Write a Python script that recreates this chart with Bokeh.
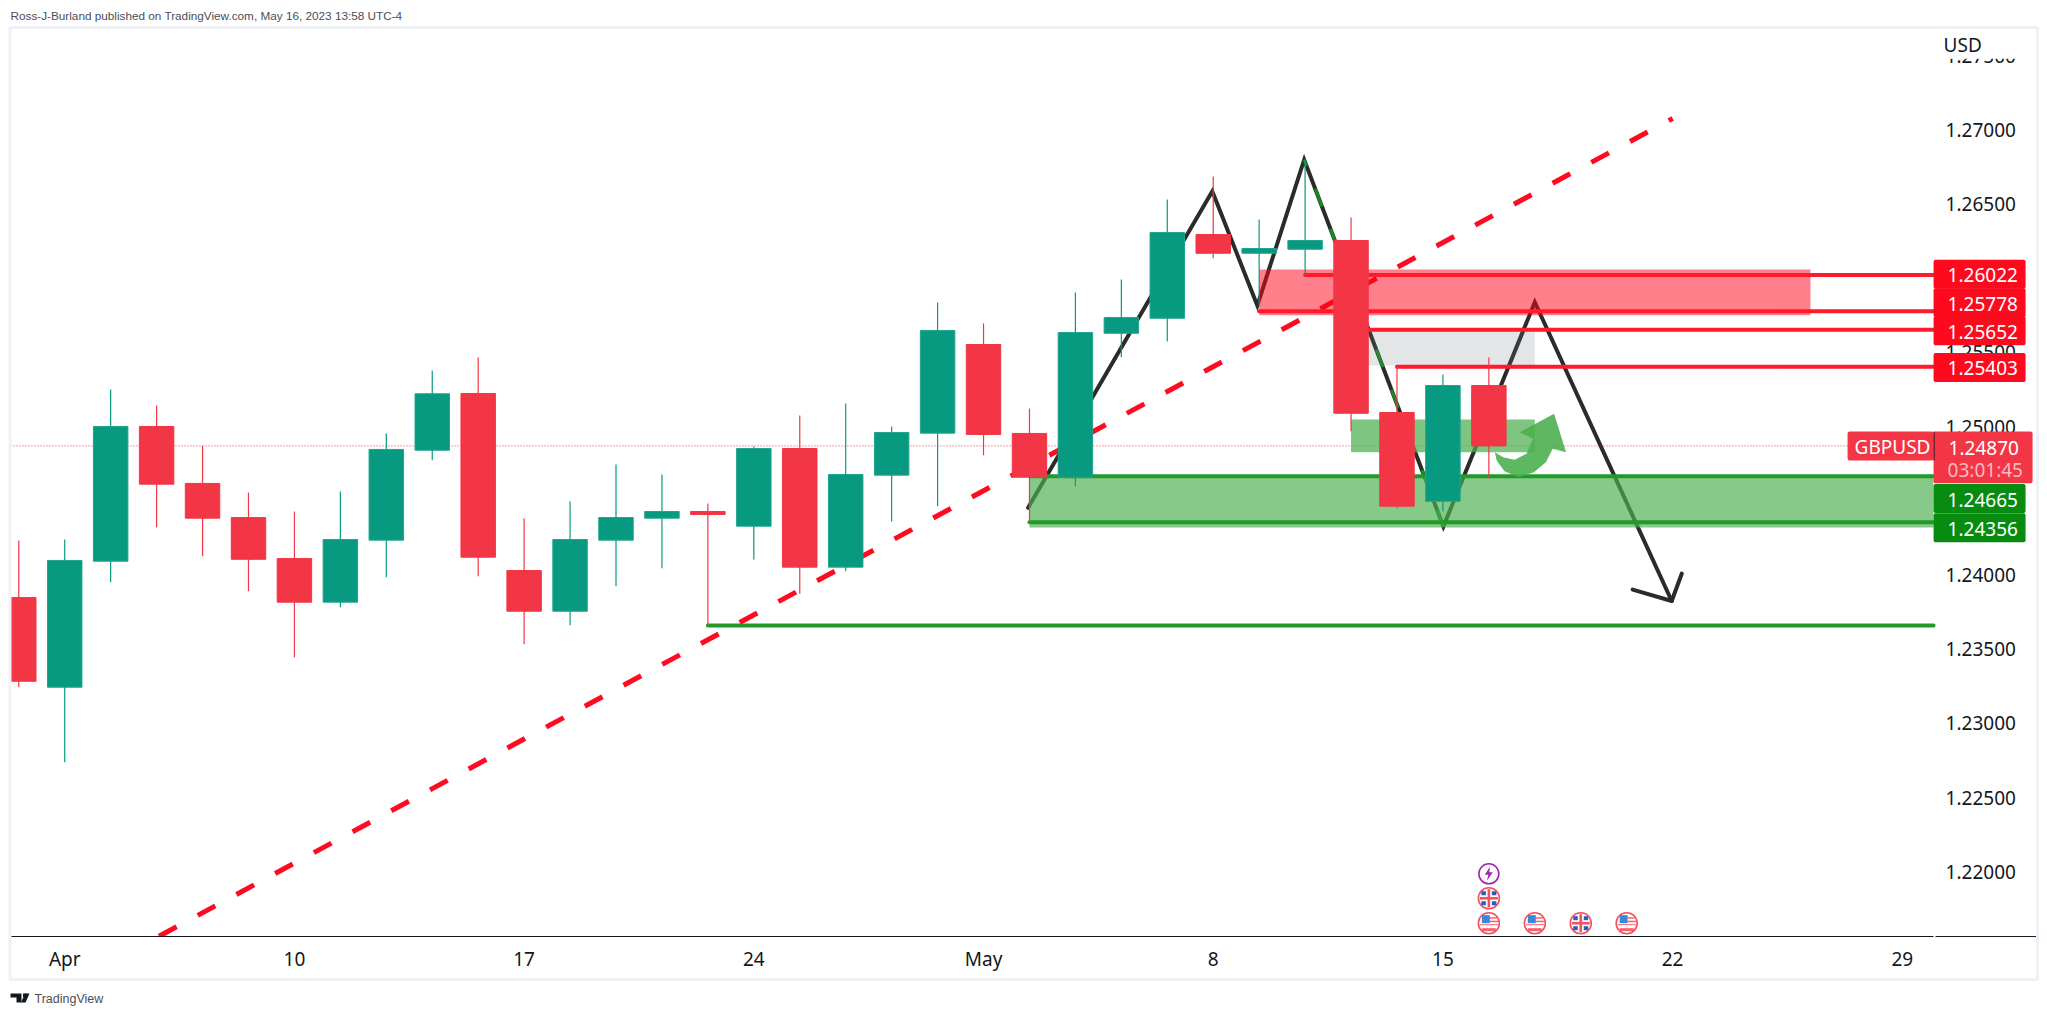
from bokeh.plotting import figure
from bokeh.embed import file_html
from bokeh.resources import INLINE
from bokeh.models import Label, PolyAnnotation, BoxAnnotation, FixedTicker, PrintfTickFormatter, Range1d, LinearAxis

# ---- data -------------------------------------------------------------
bars   = list(range(33))
opens  = [1.23848,1.23244,1.24093,1.25001,1.24617,1.24387,1.24111,1.23817,1.24235,1.24841,1.25223,
          1.24030,1.23756,1.24235,1.24383,1.24428,1.24329,1.24852,1.24053,1.24673,1.24956,1.25553,
          1.24954,1.24659,1.25629,1.25730,1.26294,1.26168,1.26195,1.26254,1.25095,1.24497,1.25277]
highs  = [1.24233,1.24239,1.25250,1.25142,1.24871,1.24556,1.24428,1.24563,1.24954,1.25378,1.25466,
          1.24381,1.24495,1.24745,1.24677,1.24482,1.24866,1.25075,1.25156,1.25001,1.25836,1.25695,
          1.25122,1.25904,1.25991,1.26530,1.26685,1.26396,1.26800,1.26409,1.25405,1.25351,1.25466]
lows   = [1.23244,1.22739,1.23952,1.24322,1.24127,1.23891,1.23446,1.23783,1.23985,1.24774,1.23992,
          1.23534,1.23662,1.23925,1.24046,1.23660,1.24104,1.23873,1.24026,1.24360,1.24464,1.24807,
          1.24347,1.24598,1.25468,1.25573,1.26135,1.25816,1.26032,1.24969,1.24450,1.24430,1.24652]
closes = [1.23284,1.24098,1.25001,1.24612,1.24383,1.24106,1.23817,1.24239,1.24846,1.25221,1.24120,
          1.23756,1.24239,1.24387,1.24428,1.24408,1.24852,1.24053,1.24677,1.24960,1.25648,1.24947,
          1.24659,1.25634,1.25735,1.26308,1.26168,1.26200,1.26254,1.25090,1.24464,1.25277,1.24870]

x_tick_pos    = [1, 6, 11, 16, 21, 26, 31, 36, 41]
x_tick_labels = ["Apr", "10", "17", "24", "May", "8", "15", "22", "29"]
y_ticks       = [1.22, 1.225, 1.23, 1.235, 1.24, 1.245, 1.25, 1.255, 1.26, 1.265, 1.27, 1.275]

last_price = 1.24870
red_levels   = [(1.26022, 28), (1.25778, 27), (1.25652, 29), (1.25403, 30)]
green_levels = [(1.24665, 22), (1.24356, 22), (1.23660, 15)]

pattern_x = [21.97, 25.98, 26.96, 27.98, 31.01, 33.0, 35.98]
pattern_y = [1.24453, 1.26586, 1.25816, 1.26798, 1.24327, 1.25838, 1.23825]
head_x = [35.13, 35.98, 36.2]
head_y = [1.23902, 1.23825, 1.24010]
dash_x = [27.98, 31.01]
dash_y = [1.26798, 1.24327]

trend_x = [2.21, 36.0]
trend_y = [1.21425, 1.27076]

curve_x = [32.13,32.31,32.56,32.82,32.96,32.67,33.42,33.68,33.39,33.24,32.98,32.65,32.34,32.17]
curve_y = [1.24827,1.24794,1.24776,1.24817,1.24918,1.24962,1.25086,1.24827,1.24850,1.24760,
           1.24693,1.24659,1.24699,1.24772]

events_us = [(32, 1.21654), (33, 1.21654), (35, 1.21654)]
events_uk = [(32, 1.21822), (34, 1.21654)]
event_bolt = (32, 1.21987)

# ---- scales: the frame fills the page, the axes sit inside it ------------
FIG_W, FIG_H = 2047, 1015
X0, X1 = -0.398, 44.16
Y0, Y1 = 1.21032, 1.27871
XL, XE = -0.181, 41.68      # left edge of the pane, start of the price scale
YB = 1.21564                # bottom of the pane
PX, PY = (X1 - X0) / FIG_W, (Y1 - Y0) / FIG_H

RED, GREEN = "#f23645", "#089981"
LINE_RED, LINE_GREEN = "#ff1a2e", "#229a2a"
BOX_RED, BOX_GREEN = "#fe0a1e", "#078c10"
FONT = "Noto Sans"
INK = "#131722"

p = figure(width=FIG_W, height=FIG_H, output_backend="svg", toolbar_location=None,
           x_range=Range1d(X0, X1), y_range=Range1d(Y0, Y1), x_axis_type=None, y_axis_type=None,
           min_border_left=0, min_border_right=0, min_border_top=0, min_border_bottom=0,
           background_fill_color="white", border_fill_color="white")
p.grid.visible = False
p.outline_line_color = None

# ---- drawings underneath the candles ----------------------------------
p.segment(XL, last_price, XE, last_price, line_color=RED, line_width=1, line_dash="1 2")
p.line(trend_x, trend_y, line_color="#ff0a20", line_width=5, line_dash="20 24")
p.line(pattern_x, pattern_y, line_color="#2b2b2b", line_width=4, line_join="miter", line_cap="round")
p.line(head_x, head_y, line_color="#2b2b2b", line_width=4, line_join="round", line_cap="round")
p.line(dash_x, dash_y, line_color="#0f8f1f", line_width=3, line_dash="19 24", line_dash_offset=12)

p.quad(left=22, right=XE, bottom=1.24320, top=1.24670, fill_color="#4caf50", fill_alpha=0.68, line_color=None)
p.quad(left=27, right=39.0, bottom=1.25751, top=1.26059, fill_color="#ff0018", fill_alpha=0.5, line_color=None)
p.quad(left=29, right=33, bottom=1.25412, top=1.25648, fill_color="#787b86", fill_alpha=0.2, line_color=None)
p.quad(left=29, right=33, bottom=1.24827, top=1.25048, fill_color="#4caf50", fill_alpha=0.72, line_color=None)

for lvl, start in red_levels:
    p.line([start, XE], [lvl, lvl], line_color=LINE_RED, line_width=4, line_cap="round")
for lvl, start in green_levels:
    p.line([start, XE], [lvl, lvl], line_color=LINE_GREEN, line_width=4, line_cap="round")

# ---- candles ----------------------------------------------------------
up = [c >= o for o, c in zip(opens, closes)]
fills = [GREEN if u else RED for u in up]
edges = ["#1fa38d" if u else RED for u in up]
p.segment(bars, highs, bars, lows, line_color=fills, line_width=1.2)
p.vbar(x=bars, width=0.75, bottom=[min(o, c) for o, c in zip(opens, closes)],
       top=[max(o, c) for o, c in zip(opens, closes)], fill_color=fills, line_color=edges, line_width=1)

p.patch(curve_x, curve_y, fill_color="#4caf50", fill_alpha=0.9, line_color=None)

# ---- calendar events --------------------------------------------------
def rel(cx, cy, x0, y0, x1, y1):
    """Little rectangle given in pixels around an event marker."""
    return dict(left=cx + x0 * PX, right=cx + x1 * PX, top=cy - y0 * PY, bottom=cy - y1 * PY)

def small(cx, cy, boxes, color):
    for b in boxes:
        p.quad(**rel(cx, cy, *b), fill_color=color, line_color=None)

for cx, cy in events_us + events_uk:
    p.scatter([cx], [cy], marker="circle", size=21, fill_color="white", line_color="#f4505e", line_width=1.6)
for cx, cy in events_us:
    small(cx, cy, [(-7, -8, 1, 0)], "#3b86dc")
    small(cx, cy, [(1, -6, 8, -4.5), (1, -2.5, 9, -1), (-9, 1, 9, 2), (-7, 5, 7, 8)], "#f4606c")
for cx, cy in events_uk:
    small(cx, cy, [(-7.5, -7, -3, -3), (3, -7, 7.5, -3), (-7.5, 3, -3, 7), (3, 3, 7.5, 7)], "#2a5cbc")
    small(cx, cy, [(-9, -1.3, 9, 1.3), (-1.3, -9, 1.3, 9)], "#f4505e")
bx, by = event_bolt
p.scatter([bx], [by], marker="circle", size=20, fill_color="white", line_color="#9c27b0", line_width=1.6)
p.patch([bx + d * PX for d in (1, -4, -0.5, -2, 4, 0.5)],
        [by - d * PY for d in (-7, 1, 1, 7, -1.5, -1.5)], fill_color="#9c27b0", line_color=None)

# ---- white masks that stand in for pane clipping ---------------------------
p.quad(left=X0, right=XL, bottom=Y0, top=Y1, fill_color="white", line_color=None)
p.quad(left=X0, right=X1, bottom=Y0, top=YB, fill_color="white", line_color=None)
p.segment(XE + 2 * PX, YB, XE + 103 * PX, YB, line_color=INK, line_width=1)

# ---- axes (fixed inside the frame) ------------------------------------
xa = LinearAxis(fixed_location=YB, bounds=(XL, XE), ticker=FixedTicker(ticks=x_tick_pos),
                major_label_overrides=dict(zip(x_tick_pos, x_tick_labels)),
                major_tick_line_color=None, minor_tick_line_color=None,
                axis_line_color=INK, axis_line_width=1,
                major_label_text_font=FONT, major_label_text_font_size="19px",
                major_label_text_color=INK, major_label_standoff=3)
p.add_layout(xa, "below")
ya = LinearAxis(fixed_location=XE, ticker=FixedTicker(ticks=y_ticks),
                formatter=PrintfTickFormatter(format="%.5f"),
                major_tick_line_color=None, minor_tick_line_color=None, axis_line_color=None,
                major_label_text_font=FONT, major_label_text_font_size="19px",
                major_label_text_color=INK, major_label_standoff=6)
p.add_layout(ya, "right")

# ---- price scale tags -------------------------------------------------
TEXT_DY = -1

def box(price, up_px, down_px, bg, right_px=92, left_px=0, radius=2):
    p.add_layout(BoxAnnotation(left=XE + left_px * PX, right=XE + right_px * PX,
                               top=price + up_px * PY, bottom=price - down_px * PY,
                               fill_color=bg, fill_alpha=1, line_color=None, line_alpha=0, border_radius=radius))

def txt(text, price, shift=0, dx=14, color="white"):
    p.add_layout(Label(x=XE, y=price, x_offset=dx, y_offset=shift + TEXT_DY, text=text, text_color=color,
                       text_font=FONT, text_font_size="19px", text_align="left", text_baseline="middle"))

# USD caption sits on a white plate that hides most of the tick beneath it
box(1.27000, 99, -71, "white", right_px=101, left_px=1, radius=0)
txt("USD", 1.27000, shift=86, dx=10, color=INK)

tags = [("1.26022", 1.26022, 0.7, BOX_RED), ("1.25778", 1.25778, 8.3, BOX_RED),
        ("1.25652", 1.25652, -1, BOX_RED), ("1.25403", 1.25403, -0.7, BOX_RED),
        ("1.24665", 1.24665, -22.2, BOX_GREEN), ("1.24356", 1.24356, -5.6, BOX_GREEN)]
for t, v, s, bg in tags:
    box(v, s + 14.5, 14.5 - s, bg)
box(last_price, 14.4, 14.6, RED, right_px=0, left_px=-86)
box(last_price, 14.4, 37.3, RED, right_px=99)
box(last_price, 14.4, 14.6, INK, right_px=1, radius=0)
for t, v, s, bg in tags:
    txt(t, v, shift=s)
txt("GBPUSD", last_price, dx=-79, shift=0)
txt("1.24870", last_price, shift=-1, dx=15)
txt("03:01:45", last_price, shift=-23.6, dx=14, color="#fbb9bf")

# ---- page furniture (page pixel coordinates) ----------------------------
def canvas_poly(xs, ys, fill=None, line=None, width=1):
    p.add_layout(PolyAnnotation(xs=xs, ys=ys, xs_units="canvas", ys_units="canvas",
                                fill_color=fill, fill_alpha=1 if fill else 0,
                                line_color=line, line_alpha=1 if line else 0, line_width=width, level="overlay"))

canvas_poly([9.5, 2037, 2037, 9.5], [27, 27, 979, 979], line="#eff1f7", width=3)
canvas_poly([10, 21, 21, 16, 16, 10], [993, 993, 1002, 1002, 997, 997], fill=INK)
canvas_poly([22.5, 26, 26, 22.5], [993, 993, 996.5, 996.5], fill=INK)
canvas_poly([29, 25, 20.5, 24.5], [993, 1002, 1002, 993], fill=INK)

p.add_layout(Label(x=10, y=15, x_units="canvas", y_units="canvas", text_align="left", text_baseline="middle",
                   text="Ross-J-Burland published on TradingView.com, May 16, 2023 13:58 UTC-4",
                   text_font="Liberation Sans", text_font_size="11.75px", text_color="#4a4e5a"))
p.add_layout(Label(x=34, y=998, x_units="canvas", y_units="canvas", text_align="left", text_baseline="middle",
                   text="TradingView", text_font="Liberation Sans", text_font_size="12.5px", text_color="#4a4e5a"))

open("out.html", "w").write(file_html(p, INLINE))
